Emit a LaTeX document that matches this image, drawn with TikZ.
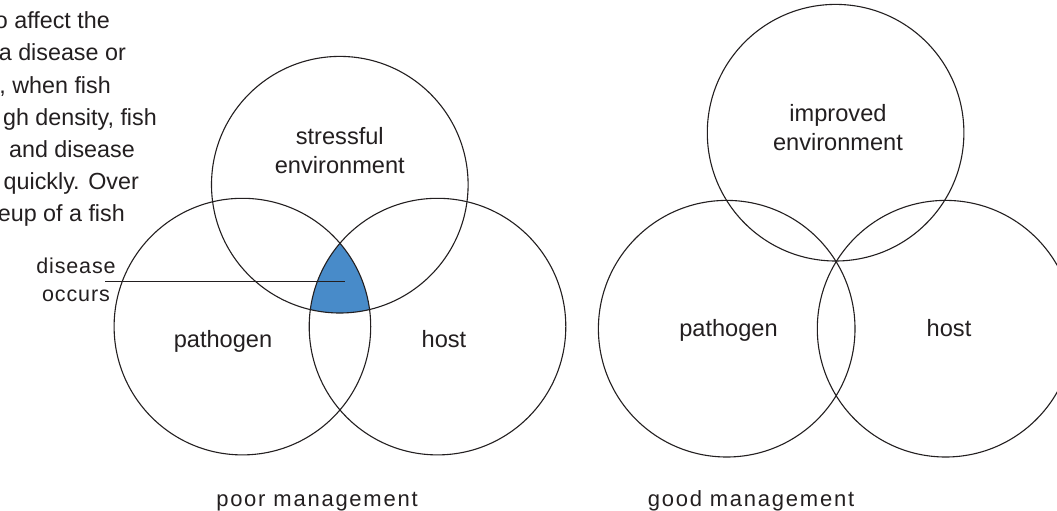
\documentclass[tikz,border=0pt]{standalone}
\usepackage{fontspec}
\setmainfont{Liberation Sans}
\newfontfamily\spacedfont[LetterSpace=8]{Liberation Sans}
\newfontfamily\tightspacedfont[LetterSpace=4]{Liberation Sans}
\definecolor{ink}{RGB}{35,31,32}
\definecolor{diseaseblue}{RGB}{72,139,201}
\begin{document}
\begin{tikzpicture}[x=1pt,y=-1pt,
  venn/.style={circle, draw=ink, line width=1.1pt, minimum size=256.6pt, inner sep=0pt},
  lbl/.style={text=ink, font=\fontsize{23.6}{28.5}\selectfont, align=center, anchor=base, inner sep=0pt},
  para/.style={text=ink, font=\fontsize{23.3}{32}\selectfont, anchor=base east, inner sep=0pt},
  caption/.style={text=ink, font=\spacedfont\fontsize{22}{28}\selectfont, align=center, anchor=base, inner sep=0pt},
  callout/.style={text=ink, font=\tightspacedfont\fontsize{21.5}{28}\selectfont, align=center, anchor=base, inner sep=0pt},
  leader/.style={draw=ink, line width=1.1pt}]
\useasboundingbox (0,0) rectangle (1057,511);
\clip (0,0) rectangle (1057,511);
\fill[white] (0,0) rectangle (1057,511);

% paragraph fragments (cut at left edge)
\node[para] (t1) at (110,28.5) {o affect the};
\node[para] (t2) at (126,61) {a disease or};
\node[para] (t3) at (111,93) {, when fish};
\node[para] (t4) at (157,125) {gh density, fish};
\node[para] (t5) at (135,157) {and disease};
\node[para] (t6) at (139,189) {quickly. Over};
\node[para] (t7) at (125,221) {eup of a fish};

% poor management
\coordinate (pLc) at (242.4,326.6);
\coordinate (hLc) at (437.5,326.6);
\coordinate (eLc) at (339.8,184.7);
\begin{scope}
  \clip (pLc) circle[radius=128.3pt];
  \clip (hLc) circle[radius=128.3pt];
  \fill[diseaseblue] (eLc) circle[radius=128.3pt];
\end{scope}
\node[venn] (envL) at (eLc) {};
\node[venn] (pathL) at (pLc) {};
\node[venn] (hostL) at (hLc) {};
% base anchor of a multi-line node = baseline of its last line
\node[lbl] (envLt) at (339.8,173) {stressful\\environment};
\node[lbl] (pathLt) at (223,347.5) {pathogen};
\node[lbl] (hostLt) at (444,347.5) {host};

\node[callout] (dis) at (76,301) {disease\\occurs};
\coordinate (lnA) at (105,281.7);
\coordinate (lnB) at (345,281.7);
\draw[leader] (lnA) -- (lnB);

\node[caption] (poor) at (317,506) {poor management};

% good management
\node[venn] (envR) at (835.6,132.7) {};
\node[venn] (pathR) at (726.7,328.7) {};
\node[venn] (hostR) at (945.6,328.7) {};
\node[lbl] (envRt) at (838,150) {improved\\environment};
\node[lbl] (pathRt) at (728.5,336.7) {pathogen};
\node[lbl] (hostRt) at (949,336.7) {host};
\node[caption] (good) at (751,506) {good management};
\end{tikzpicture}
\end{document}
